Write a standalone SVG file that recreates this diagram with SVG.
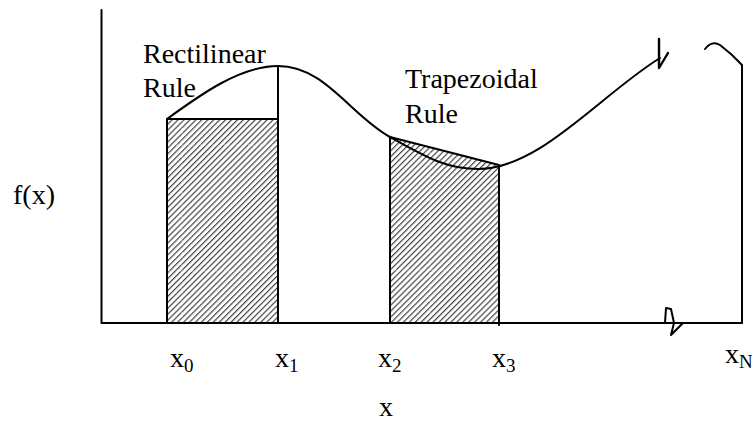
<svg xmlns="http://www.w3.org/2000/svg" width="752" height="424" viewBox="0 0 752 424">
<style>
.ln{fill:none;stroke:#000;stroke-width:2;stroke-linecap:round;stroke-linejoin:round}
.tx{font-family:"Liberation Serif","Times New Roman",serif;font-size:28px;fill:#000}
.grid{stroke:#fff;stroke-width:0.8;stroke-dasharray:2 2;opacity:0.6}
</style>
<defs>
<pattern id="hatch" patternUnits="userSpaceOnUse" width="4.2" height="4.2" patternTransform="rotate(45)">
<rect width="4.2" height="4.2" fill="#fff"/>
<line x1="0" y1="0" x2="0" y2="4.2" stroke="#444" stroke-width="2.4"/>
</pattern>
</defs>
<rect width="752" height="424" fill="#fff"/>
<g id="rectilinear">
<rect x="167" y="119" width="111" height="204" fill="url(#hatch)"/>
<line class="grid" x1="182" y1="120" x2="182" y2="322"/>
<line class="grid" x1="168" y1="145" x2="277" y2="145"/>
<line class="grid" x1="168" y1="271" x2="277" y2="271"/>
<path class="ln" d="M167,323 L167,119 L278,119 M278,66 L278,323"/>
</g>
<g id="trapezoidal">
<polygon points="390,137 499,165 499,323 390,323" fill="url(#hatch)"/>
<line class="grid" x1="391" y1="270" x2="498" y2="270"/>
<line class="grid" x1="430" y1="148" x2="430" y2="322"/>
<path class="ln" d="M390,323 L390,137 L499,165 L499,325"/>
</g>
<g id="curve">
<path class="ln" d="M167,119 C200,95 240,66 278,66 C325,66 350,115 390,137 C425,156 445,169 478,169 C540,169 600,95 660,58"/>
<path class="ln" d="M659,39 L659,68 L668,53" style="stroke-width:2.4"/>
<path class="ln" d="M705,49 Q712,40 720,45 Q732,54 742,65 L742,323"/>
</g>
<g id="axes">
<path class="ln" d="M101.5,10 L101.5,323 L742,323"/>
<path class="ln" d="M665,323 L666,308 L671,309 L674,323 L671,335 L683,323"/>
</g>
<g id="labels">
<text class="tx" x="143" y="63">Rectilinear</text>
<text class="tx" x="143" y="97">Rule</text>
<text class="tx" x="405" y="88">Trapezoidal</text>
<text class="tx" x="405" y="123">Rule</text>
<text class="tx" x="13" y="204">f(x)</text>
<text class="tx" x="170" y="367">x<tspan font-size="19" dy="5">0</tspan></text>
<text class="tx" x="275" y="367">x<tspan font-size="19" dy="5">1</tspan></text>
<text class="tx" x="378" y="367">x<tspan font-size="19" dy="5">2</tspan></text>
<text class="tx" x="492" y="367">x<tspan font-size="19" dy="5">3</tspan></text>
<text class="tx" x="725" y="363">x<tspan font-size="19" dy="5">N</tspan></text>
<text class="tx" x="379" y="416">x</text>
</g>
</svg>
